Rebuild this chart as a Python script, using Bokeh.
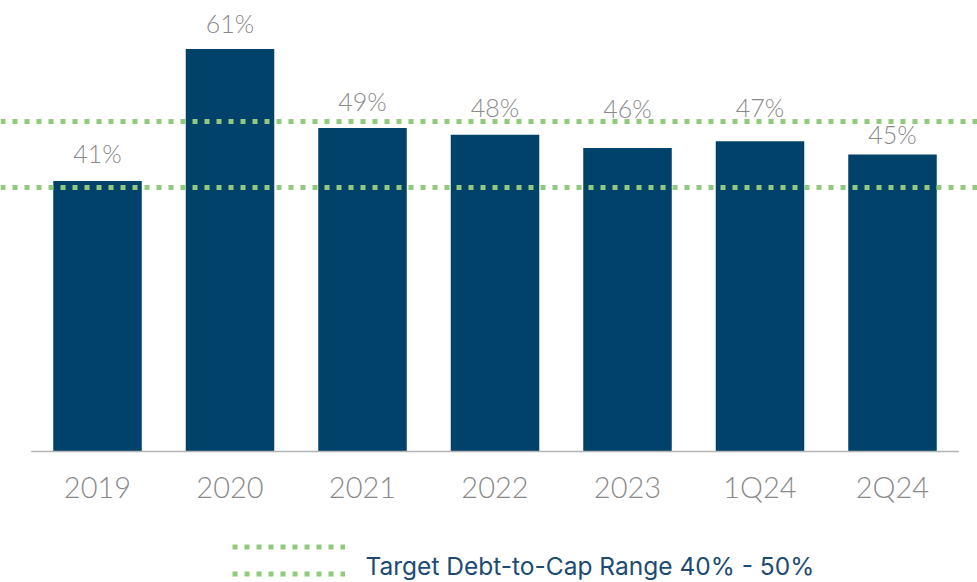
from bokeh.plotting import figure
from bokeh.models import (Range1d, FixedTicker, ColumnDataSource, Legend,
                          LegendItem, LabelSet, Label, Segment)
from bokeh.core.properties import value
from bokeh.embed import file_html
from bokeh.resources import INLINE

# ---- data ----
categories = ["2019", "2020", "2021", "2022", "2023", "1Q24", "2Q24"]
values = [41, 61, 49, 48, 46, 47, 45]
target_low = 40
target_high = 50
legend_text = "Target Debt-to-Cap Range 40% - 50%"

# ---- styles / label placement (pixels above bar top, avoids the target lines) ----
label_offsets = [18, 16, 17, 18, 30, 24, 10]
BAR = "#00426a"
GREEN = "#91c97d"
GRAY = "#8a8a8a"
AXIS = "#b4b4b4"
LEGEND_TXT = "#1d4b75"
LIGHT_FONT = "Lato Light"

xs = list(range(len(categories)))
src = ColumnDataSource(dict(x=xs, top=values, label=[f"{v}%" for v in values],
                            dy=label_offsets))

p = figure(width=977, height=582, output_backend="svg", toolbar_location=None,
           x_range=Range1d(-0.7321, 6.6415), y_range=Range1d(-19.85, 68.33),
           y_axis_location=None, min_border_left=0, min_border_right=0,
           min_border_top=0, min_border_bottom=0)
p.outline_line_color = None
p.grid.visible = False
p.background_fill_color = "white"
p.border_fill_color = "white"

p.vbar(x="x", top="top", bottom=0, width=0.668, source=src,
       fill_color=BAR, line_color=None)

# baseline across the category bands
base_src = ColumnDataSource(dict(x0=[xs[0] - 0.5], x1=[xs[-1] + 0.5], y0=[0], y1=[0]))
p.add_glyph(base_src, Segment(x0="x0", y0="y0", x1="x1", y1="y1",
                              line_color=AXIS, line_width=1.5))

# target range lines (horizontal spans across the plot)
tgt = p.hspan(y=[target_high, target_low], line_color=GREEN, line_width=5,
              line_dash="5 7")

# value labels
p.add_layout(LabelSet(x="x", y="top", text="label", source=src, y_offset="dy",
                      text_align="center", text_baseline="alphabetic",
                      text_font_size="25px", text_color=GRAY,
                      text_font=value(LIGHT_FONT)))

# x axis, fixed at the baseline
ax = p.xaxis[0]
ax.fixed_location = 0
ax.ticker = FixedTicker(ticks=xs)
ax.major_label_overrides = {i: c for i, c in zip(xs, categories)}
ax.axis_line_color = None
ax.major_tick_line_color = None
ax.minor_tick_line_color = None
ax.major_tick_out = 0
ax.major_tick_in = 0
ax.major_label_standoff = 18
ax.major_label_text_font_size = "29px"
ax.major_label_text_color = GRAY
ax.major_label_text_font = LIGHT_FONT

# legend: two stacked dotted lines (the 50% and 40% bounds)
legend = Legend(items=[LegendItem(label="", renderers=[tgt], index=0),
                       LegendItem(label="", renderers=[tgt], index=1)],
                location=(232, -5), orientation="vertical",
                glyph_width=113, glyph_height=27, label_height=0,
                label_standoff=0, spacing=0, padding=0, margin=0,
                border_line_color=None, background_fill_alpha=0,
                label_text_font_size="1px")
p.add_layout(legend, "center")

# legend caption, baseline aligned with the lower dotted line
p.add_layout(Label(x=365, y=17, x_units="screen", y_units="screen",
                   text=legend_text, text_font="Inter", text_font_size="24.5px",
                   text_color=LEGEND_TXT, text_baseline="alphabetic"))

open("out.html", "w").write(file_html(p, INLINE))
